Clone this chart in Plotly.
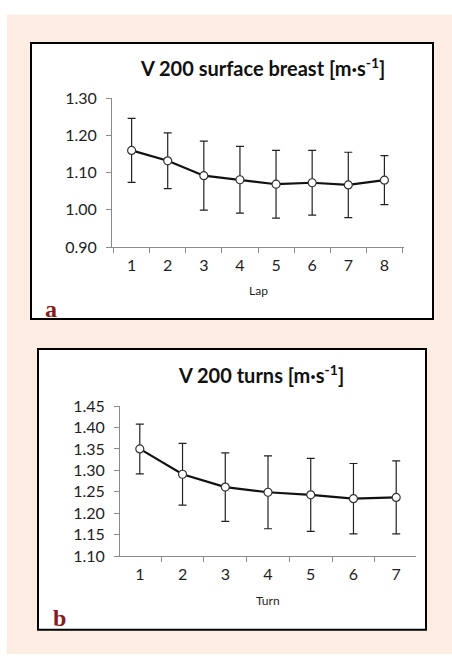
import plotly.graph_objects as go

# Panel a: surface breaststroke velocity per lap (mean ± SD)
laps = ["1", "2", "3", "4", "5", "6", "7", "8"]
lap_mean = [1.160, 1.132, 1.092, 1.081, 1.069, 1.073, 1.067, 1.080]
lap_sd = [0.086, 0.075, 0.093, 0.090, 0.091, 0.087, 0.088, 0.066]

# Panel b: turn velocity per turn (mean ± SD)
turns = ["1", "2", "3", "4", "5", "6", "7"]
turn_mean = [1.350, 1.291, 1.261, 1.249, 1.243, 1.234, 1.237]
turn_sd = [0.058, 0.072, 0.080, 0.085, 0.085, 0.082, 0.085]

W, H = 452, 663
FONT = "Lato, 'Open Sans', sans-serif"
AXIS_GREY = "#8a8a8a"
TEXT = "#1e1e24"


def px(x):
    return x / W


def py(y):
    return 1 - y / H


fig = go.Figure()

series = [
    (laps, lap_mean, lap_sd, "x", "y"),
    (turns, turn_mean, turn_sd, "x2", "y2"),
]
for cats, mean, sd, xa, ya in series:
    fig.add_trace(go.Scatter(
        x=cats, y=mean, xaxis=xa, yaxis=ya,
        mode="lines+markers",
        line=dict(color="#111111", width=2.2),
        marker=dict(size=8, color="white", line=dict(color="#333333", width=1.2)),
        error_y=dict(type="data", array=sd, visible=True,
                     color="#222222", thickness=1.2, width=4),
        showlegend=False, cliponaxis=False,
    ))

common_x = dict(
    type="category", tickson="boundaries", ticks="outside", ticklen=5,
    tickcolor=AXIS_GREY, showline=True, linecolor=AXIS_GREY, linewidth=1,
    showgrid=False, zeroline=False, fixedrange=True, ticklabelstandoff=4,
    tickfont=dict(family=FONT, size=16, color=TEXT),
)
common_y = dict(
    ticks="outside", ticklen=5, tickcolor=AXIS_GREY, showline=True,
    linecolor=AXIS_GREY, linewidth=1, showgrid=False, zeroline=False,
    tickformat=".2f", fixedrange=True, ticklabelstandoff=6,
    tickfont=dict(family=FONT, size=16, color=TEXT),
)

fig.update_layout(
    width=W, height=H,
    margin=dict(l=0, r=0, t=0, b=0),
    paper_bgcolor="white", plot_bgcolor="white",
    xaxis=dict(common_x, domain=[px(112), px(404)], anchor="y"),
    yaxis=dict(common_y, domain=[py(244), py(91)], anchor="x",
               range=[0.90, 1.30], dtick=0.1),
    xaxis2=dict(common_x, domain=[px(120), px(416)], anchor="y2"),
    yaxis2=dict(common_y, domain=[py(562.3), py(407.7)], anchor="x2",
                range=[1.10, 1.45], dtick=0.05),
)

# Page background and framed panels
shapes = [
    dict(type="rect", xref="paper", yref="paper", x0=px(7), x1=1, y0=0, y1=py(5),
         fillcolor="#fdece1", line=dict(width=0), layer="below"),
    dict(type="rect", xref="paper", yref="paper", x0=px(31), x1=px(433), y0=py(318), y1=py(34),
         fillcolor="white", line=dict(color="black", width=2), layer="below"),
    dict(type="rect", xref="paper", yref="paper", x0=px(38), x1=px(426), y0=py(638), y1=py(349),
         fillcolor="white", line=dict(color="black", width=2), layer="below"),
]
fig.update_layout(shapes=shapes)

ann = []
for text, x, y in [
    ("<b>V 200 surface breast [m·s<sup>-1</sup>]</b>", 262, 59),
    ("<b>V 200 turns [m·s<sup>-1</sup>]</b>", 261, 375),
]:
    ann.append(dict(text=text, x=px(x), y=py(y), xref="paper", yref="paper",
                    showarrow=False, xanchor="center", yanchor="middle",
                    font=dict(family=FONT, size=20, color="#111111")))
for text, x, y in [("Lap", 258, 289), ("Turn", 268, 608)]:
    ann.append(dict(text=text, x=px(x), y=py(y), xref="paper", yref="paper",
                    showarrow=False, xanchor="center", yanchor="middle",
                    font=dict(family=FONT, size=12, color=TEXT)))
for lab, x, y in [("a", 51, 308), ("b", 59, 626)]:
    ann.append(dict(text="<b>" + lab + "</b>", x=px(x), y=py(y), xref="paper", yref="paper",
                    showarrow=False, xanchor="center", yanchor="middle",
                    font=dict(family="'Liberation Serif', 'DejaVu Serif', serif",
                              size=24, color="#8b1a1a")))
fig.update_layout(annotations=ann)

fig.write_html("out.html")
